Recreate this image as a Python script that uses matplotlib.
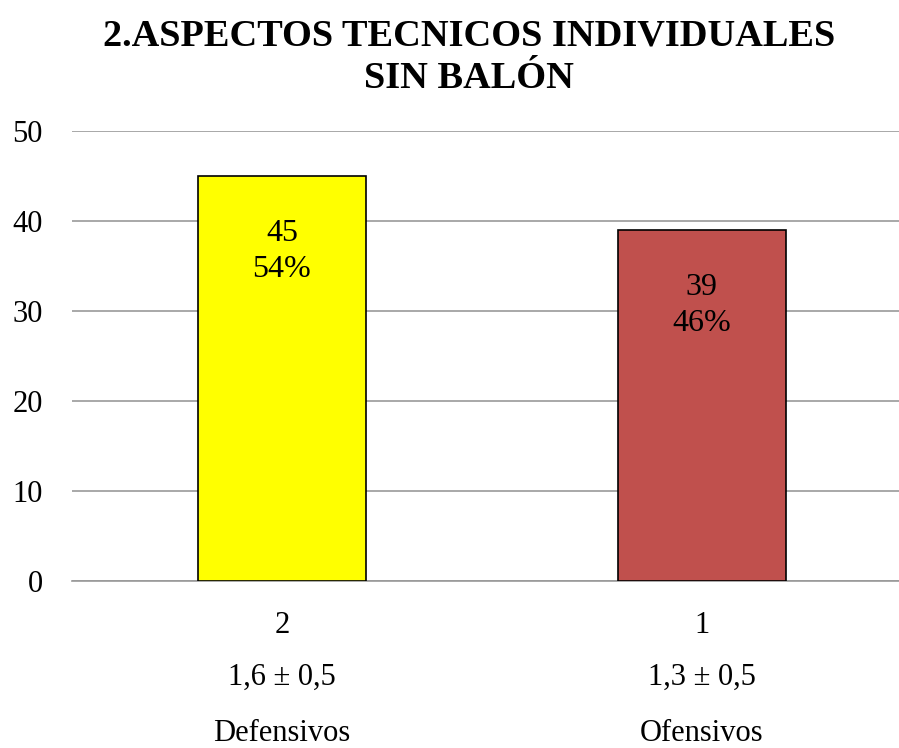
import matplotlib.pyplot as plt

# data
categories = ['2', '1']
values = [45, 39]
percents = ['54%', '46%']
stats = ['1,6 ± 0,5', '1,3 ± 0,5']
groups = ['Defensivos', 'Ofensivos']
colors = ['#FFFF00', '#C0504D']

plt.rcParams['font.family'] = ['Liberation Serif', 'DejaVu Serif']

fig = plt.figure(figsize=(8.99, 7.48), dpi=100)
ax = fig.add_axes([72 / 899, 1 - 581 / 748, 827 / 899, 450 / 748])

x = list(range(len(categories)))
ax.bar(x, values, width=0.4, color=colors, edgecolor='black', linewidth=1.2, zorder=3)

# value + percent inside the bars (offsets in points)
for i in x:
    ax.annotate(str(values[i]), (i, values[i]), xytext=(0, -39), textcoords='offset points',
                ha='center', va='center_baseline', fontsize=23, zorder=4)
    ax.annotate(percents[i], (i, values[i]), xytext=(0, -65), textcoords='offset points',
                ha='center', va='center_baseline', fontsize=23, zorder=4)

ax.set_xlim(-0.5, 1.47)
ax.set_ylim(0, 50)
ax.set_yticks(range(0, 51, 10))
ax.tick_params(axis='y', labelsize=22, length=0, pad=21)
ax.set_xticks([])
ax.grid(axis='y', color='#999999', linewidth=1.2, zorder=0)
for s in ['top', 'right', 'left']:
    ax.spines[s].set_visible(False)
ax.spines['bottom'].set_color('#999999')
ax.spines['bottom'].set_linewidth(1.2)

# three-line category labels below axis
trans = ax.get_xaxis_transform()
offsets = [-29.5, -67, -107]
for i in x:
    for off, txt in zip(offsets, [categories[i], stats[i], groups[i]]):
        ax.annotate(txt, (i, 0), xycoords=trans, xytext=(0, off),
                    textcoords='offset points', ha='center', va='center_baseline', fontsize=22)

fig.text(469 / 899, 1 - 32 / 748, '2.ASPECTOS TECNICOS INDIVIDUALES',
         ha='center', va='center_baseline', fontsize=27.6, fontweight='bold')
fig.text(469 / 899, 1 - 74 / 748, 'SIN BALÓN',
         ha='center', va='center_baseline', fontsize=27.6, fontweight='bold')

fig.savefig('out.png', dpi=100)
